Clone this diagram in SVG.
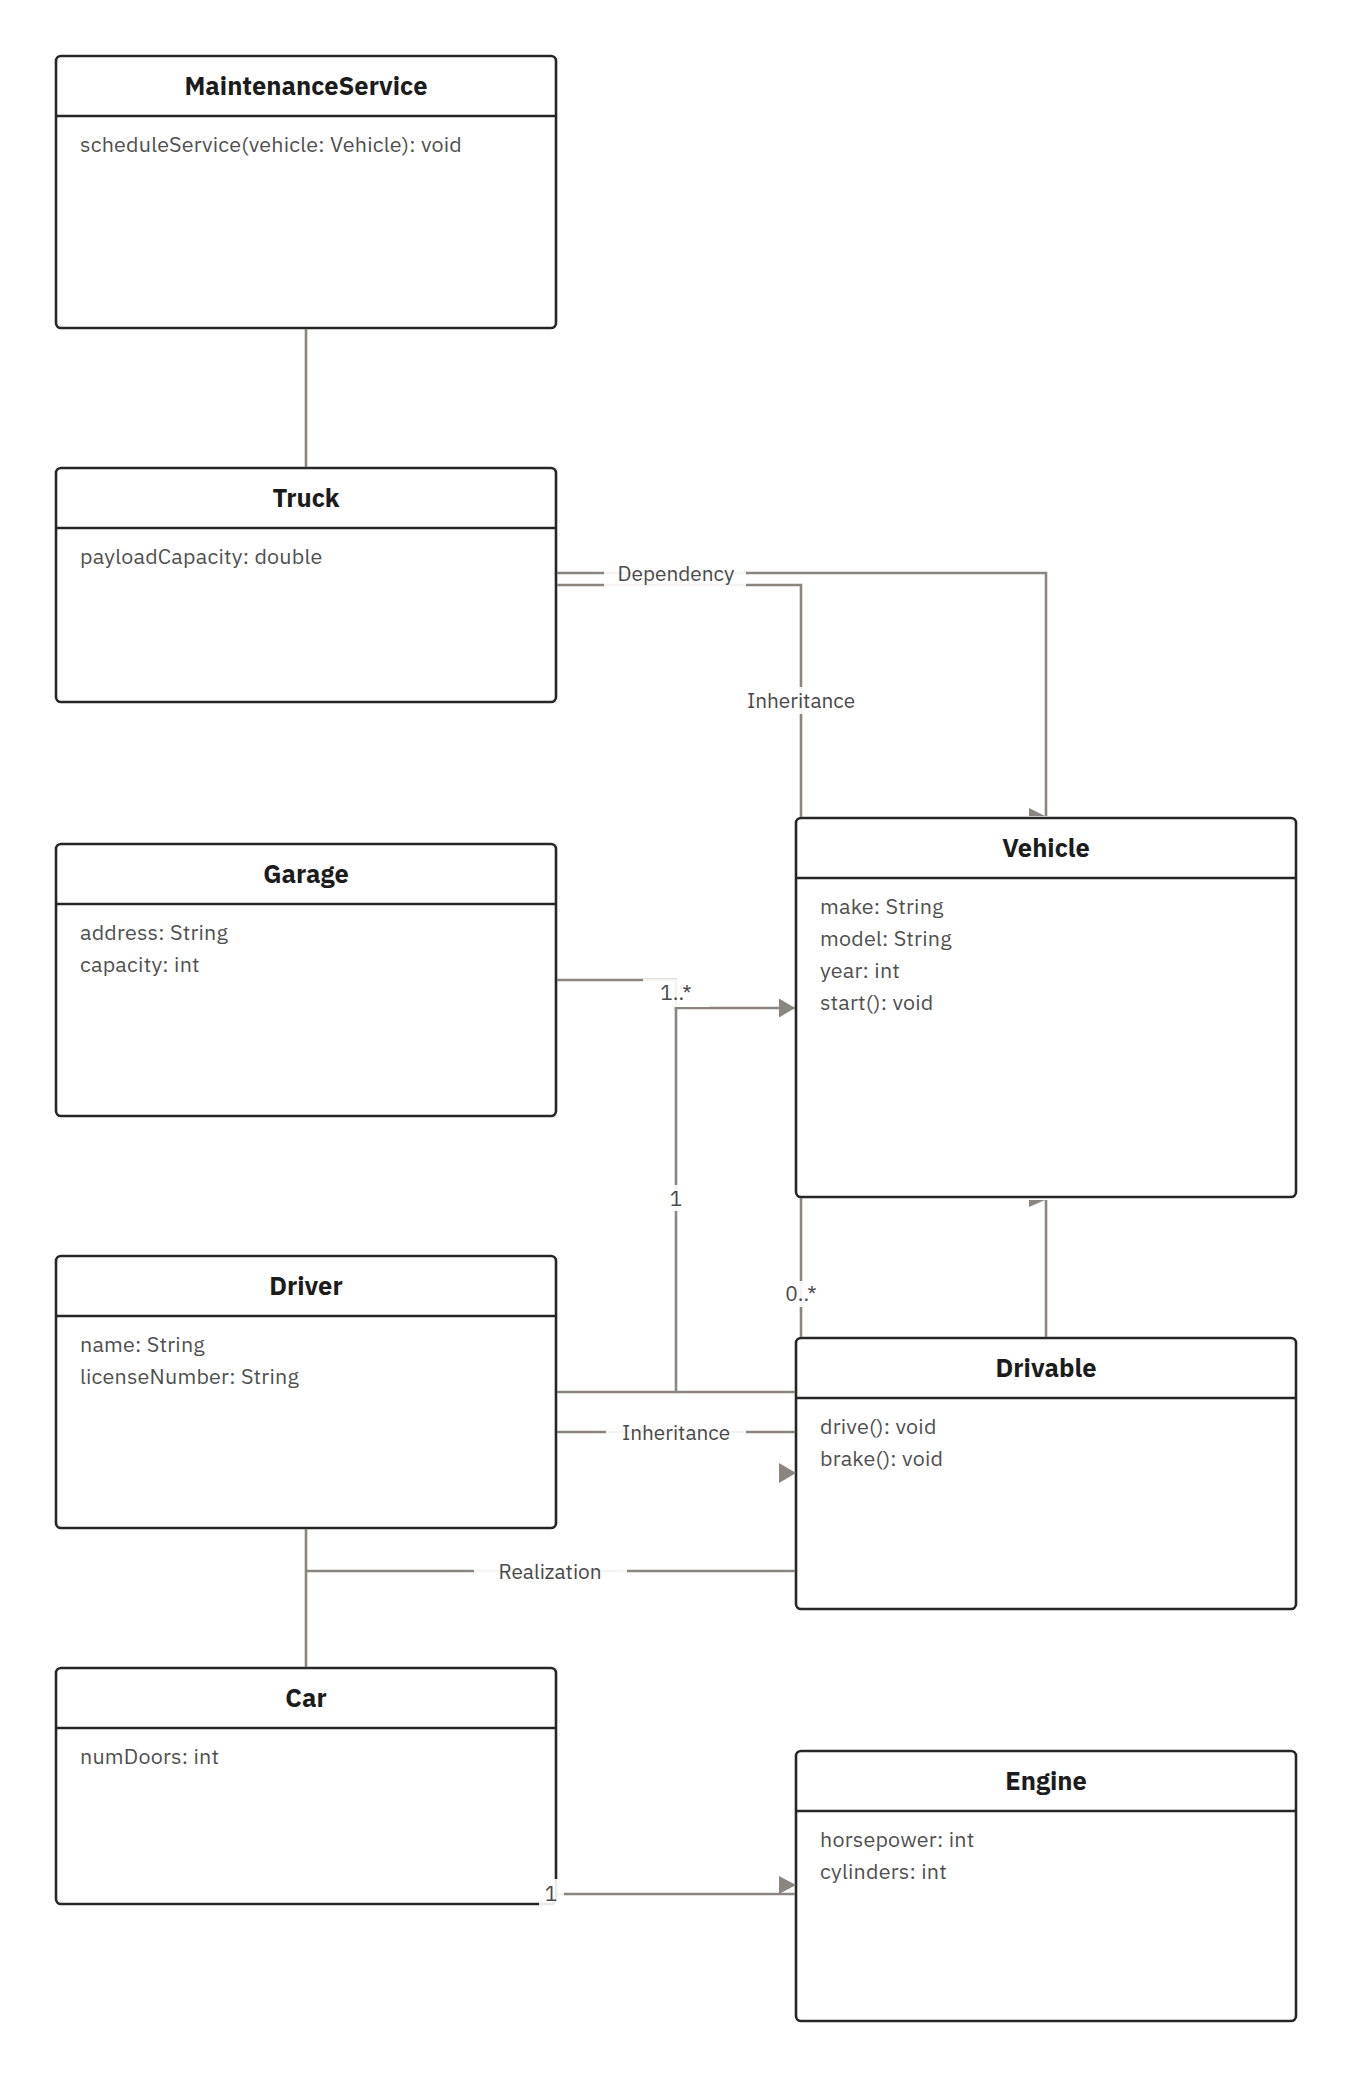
<svg xmlns="http://www.w3.org/2000/svg" width="1352" height="2078" viewBox="0 0 1352 2078">
<defs>
<style>
.box{fill:#fff;stroke:#262626;stroke-width:2.6}
.sep{stroke:#262626;stroke-width:2.6}
.title{font-family:"IBM Plex Sans","Noto Sans","Liberation Sans",sans-serif;font-weight:700;font-size:25.5px;fill:#1c1c1c;text-anchor:middle}
.attr{font-family:"IBM Plex Sans","Noto Sans","Liberation Sans",sans-serif;font-size:21.5px;letter-spacing:0.2px;fill:#505050}
.edge{fill:none;stroke:#8a857e;stroke-width:2.6}
.lbg{fill:#fff;fill-opacity:0.9}
.lbl{font-family:"IBM Plex Sans","Noto Sans","Liberation Sans",sans-serif;font-size:20.8px;fill:#4a4a4a;text-anchor:middle;dominant-baseline:central}
.ah{fill:#8a857e}
</style>
<marker id="arrow" markerUnits="userSpaceOnUse" markerWidth="17" markerHeight="20" refX="16" refY="9.5" orient="auto">
<path d="M0,0 L16,9.5 L0,19 Z" fill="#8a857e"/>
</marker>
</defs>
<rect width="1352" height="2078" fill="#fff"/>

<g id="nodes">
<g id="MaintenanceService">
<rect class="box" x="56" y="56" width="500" height="272" rx="5"/>
<line class="sep" x1="56" y1="116" x2="556" y2="116"/>
<text class="title" x="306" y="95">MaintenanceService</text>
<text class="attr" x="80" y="152">scheduleService(vehicle: Vehicle): void</text>
</g>
<g id="Truck">
<rect class="box" x="56" y="468" width="500" height="234" rx="5"/>
<line class="sep" x1="56" y1="528" x2="556" y2="528"/>
<text class="title" x="306" y="507">Truck</text>
<text class="attr" x="80" y="564">payloadCapacity: double</text>
</g>
<g id="Garage">
<rect class="box" x="56" y="844" width="500" height="272" rx="5"/>
<line class="sep" x1="56" y1="904" x2="556" y2="904"/>
<text class="title" x="306" y="883">Garage</text>
<text class="attr" x="80" y="940">address: String</text>
<text class="attr" x="80" y="972">capacity: int</text>
</g>
<g id="Driver">
<rect class="box" x="56" y="1256" width="500" height="272" rx="5"/>
<line class="sep" x1="56" y1="1316" x2="556" y2="1316"/>
<text class="title" x="306" y="1295">Driver</text>
<text class="attr" x="80" y="1352">name: String</text>
<text class="attr" x="80" y="1384">licenseNumber: String</text>
</g>
<g id="Car">
<rect class="box" x="56" y="1668" width="500" height="236" rx="5"/>
<line class="sep" x1="56" y1="1728" x2="556" y2="1728"/>
<text class="title" x="306" y="1707">Car</text>
<text class="attr" x="80" y="1764">numDoors: int</text>
</g>
<g id="Vehicle">
<rect class="box" x="796" y="818" width="500" height="379" rx="5"/>
<line class="sep" x1="796" y1="878" x2="1296" y2="878"/>
<text class="title" x="1046" y="857">Vehicle</text>
<text class="attr" x="820" y="914">make: String</text>
<text class="attr" x="820" y="946">model: String</text>
<text class="attr" x="820" y="978">year: int</text>
<text class="attr" x="820" y="1010">start(): void</text>
</g>
<g id="Drivable">
<rect class="box" x="796" y="1338" width="500" height="271" rx="5"/>
<line class="sep" x1="796" y1="1398" x2="1296" y2="1398"/>
<text class="title" x="1046" y="1377">Drivable</text>
<text class="attr" x="820" y="1434">drive(): void</text>
<text class="attr" x="820" y="1466">brake(): void</text>
</g>
<g id="Engine">
<rect class="box" x="796" y="1751" width="500" height="270" rx="5"/>
<line class="sep" x1="796" y1="1811" x2="1296" y2="1811"/>
<text class="title" x="1046" y="1790">Engine</text>
<text class="attr" x="820" y="1847">horsepower: int</text>
<text class="attr" x="820" y="1879">cylinders: int</text>
</g>
</g>

<g id="connectors">
<path class="edge" d="M306,329 V467"/>
<path class="edge" d="M557,573 H1046 V816"/>
<polygon class="ah" points="1029,808 1029,816 1045,816"/>
<path class="edge" d="M557,585 H801 V817"/>
<path class="edge" d="M557,980 H676 V1008 H795" marker-end="url(#arrow)"/>
<path class="edge" d="M557,1392 H676 V1008"/>
<path class="edge" d="M676,1392 H795"/>
<path class="edge" d="M801,1198 V1337"/>
<path class="edge" d="M1046,1337 V1200"/>
<polygon class="ah" points="1029,1200 1045,1200 1029,1207"/>
<path class="edge" d="M557,1432 H795"/>
<polygon class="ah" points="779,1463 796,1473 779,1483"/>
<path class="edge" d="M306,1529 V1667"/>
<path class="edge" d="M306,1571 H795"/>
<path class="edge" d="M557,1894 H795"/>
<polygon class="ah" points="779,1876 796,1885 779,1894"/>

<g id="labels">
<rect class="lbg" x="604" y="561" width="142" height="30"/>
<text class="lbl" x="676" y="573">Dependency</text>
<rect class="lbg" x="743" y="687" width="116" height="27"/>
<text class="lbl" x="801" y="700">Inheritance</text>
<rect class="lbg" x="643" y="979" width="66" height="28"/>
<text class="lbl" x="676" y="992">1..*</text>
<rect class="lbg" x="665" y="1185" width="22" height="26"/>
<text class="lbl" x="676" y="1198">1</text>
<rect class="lbg" x="780" y="1281" width="42" height="26"/>
<text class="lbl" x="801" y="1293">0..*</text>
<rect class="lbg" x="606" y="1419" width="140" height="26"/>
<text class="lbl" x="676" y="1432">Inheritance</text>
<rect class="lbg" x="474" y="1558" width="153" height="26"/>
<text class="lbl" x="550" y="1571">Realization</text>
<rect class="lbg" x="539" y="1879" width="25" height="28"/>
<text class="lbl" x="551" y="1893">1</text>
</g>
</g>
</svg>
